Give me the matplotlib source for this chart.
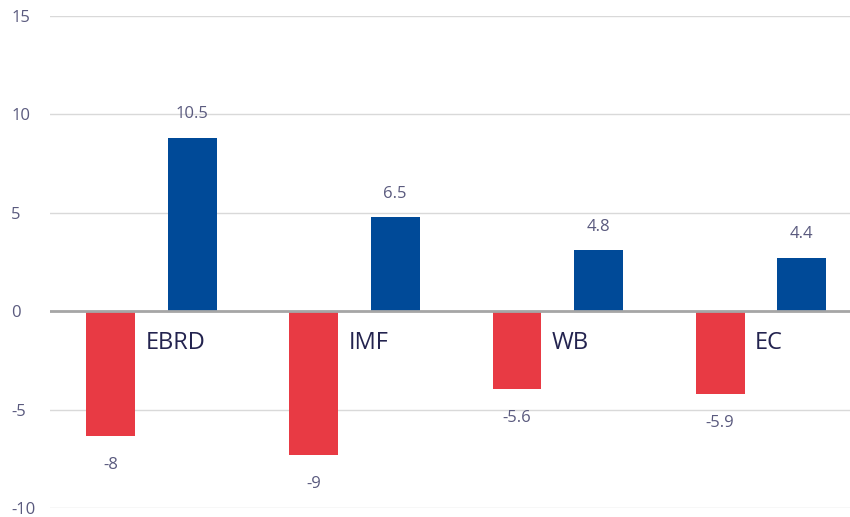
import matplotlib.pyplot as plt
import numpy as np

plt.rcParams['font.family'] = ['Open Sans', 'DejaVu Sans']
plt.rcParams['axes.unicode_minus'] = False

# datos
categorias = ['EBRD', 'IMF', 'WB', 'EC']
valores_rojo = [-6.35, -7.3, -3.97, -4.21]
valores_azul = [8.8, 4.78, 3.1, 2.7]
etiquetas_rojo = ['-8', '-9', '-5.6', '-5.9']
etiquetas_azul = ['10.5', '6.5', '4.8', '4.4']
ticks_y = [-10, -5, 0, 5, 10, 15]

rojo = '#E83A44'
azul = '#004A98'
texto = '#5A5A7E'
texto_cat = '#23234F'

fig = plt.figure(figsize=(8.5, 5.17), dpi=100)
ax = fig.add_axes([50 / 850, 9 / 517, 800 / 850, 492 / 517])

x = np.arange(len(categorias))
ancho = 0.241
desp = 0.2

ax.bar(x - desp, valores_rojo, ancho, color=rojo, zorder=2)
ax.bar(x + desp, valores_azul, ancho, color=azul, zorder=2)

# etiquetas de valores y categorías
for i in range(len(categorias)):
    ax.annotate(etiquetas_azul[i], (x[i] + desp, valores_azul[i]),
                xytext=(0, 17), textcoords='offset points',
                ha='center', va='center', fontsize=12, color=texto)
    ax.annotate(etiquetas_rojo[i], (x[i] - desp, valores_rojo[i]),
                xytext=(0, -21), textcoords='offset points',
                ha='center', va='center', fontsize=12, color=texto)
    ax.text(x[i] - desp + ancho / 2 + 0.05, -1.6, categorias[i],
            ha='left', va='center', fontsize=17, color=texto_cat)

ax.set_xlim(-0.5, 3.44)
ax.set_ylim(-10, 15)
ax.set_yticks(ticks_y)
ax.set_xticks([])

ax.grid(axis='y', color='#d9d9d9', linewidth=1, zorder=0)
ax.axhline(0, color='#a6a6a6', linewidth=2, zorder=3)

for s in ax.spines.values():
    s.set_visible(False)

ax.tick_params(axis='y', length=0, pad=28, labelsize=12, labelcolor=texto)
for lbl in ax.get_yticklabels():
    lbl.set_horizontalalignment('left')

fig.savefig('out.png', dpi=100)
